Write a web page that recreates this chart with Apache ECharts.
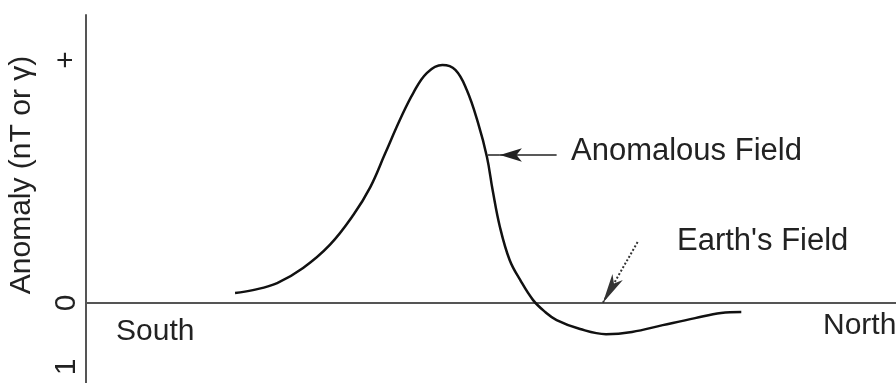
<!DOCTYPE html>
<html>
<head>
<meta charset="utf-8">
<style>
  html, body { margin: 0; padding: 0; background: #fff; }
  #chart { width: 896px; height: 383px; }
</style>
<script src="https://cdn.jsdelivr.net/npm/echarts@6/dist/echarts.min.js"></script>
</head>
<body>
<div id="chart"></div>
<script>
// profile distance (arbitrary units, South -> North) and anomaly (relative units)
const distance = [18.4, 20.6, 23.6, 26.8, 30.1, 33.0, 35.1, 36.9, 38.8, 40.4, 42.1, 44.0, 45.6, 47.0, 48.4, 49.5, 50.2, 51.1, 52.3, 53.6, 55.2, 56.7, 58.1, 61.0, 64.2, 67.4, 71.2, 75.2, 78.4, 80.9];
const anomaly = [0.041, 0.053, 0.082, 0.144, 0.239, 0.362, 0.477, 0.613, 0.757, 0.864, 0.947, 0.979, 0.959, 0.877, 0.741, 0.601, 0.465, 0.313, 0.177, 0.095, 0.012, -0.037, -0.070, -0.107, -0.128, -0.119, -0.091, -0.062, -0.041, -0.037];

// y tick labels: "+" above zero, "0", and "1" below
const tickValues = [-0.263, 0, 1];
const tickLabels = ["1", "0", "+"];

// annotation arrows [x, y] in data units
const anomalousArrow = [[58.1, 0.609], [51.1, 0.609]];
const anomalousStub = [[51.1, 0.609], [49.6, 0.609]];
const earthArrow = [[68.1, 0.251], [63.8, 0]];

const chart = echarts.init(document.getElementById("chart"));

const font = "Liberation Sans, Arial, sans-serif";
const txt = "#222";

chart.setOption({
  animation: false,
  grid: { left: 86, right: 0, top: 15, bottom: 0, outerBoundsMode: "none" },
  xAxis: {
    type: "value",
    min: 0,
    max: 100,
    axisLine: { onZero: true, lineStyle: { color: "#555", width: 2 } },
    axisTick: { show: false },
    axisLabel: { show: false },
    splitLine: { show: false },
  },
  yAxis: {
    type: "value",
    min: -0.329,
    max: 1.185,
    name: "Anomaly (nT or γ)",
    nameLocation: "middle",
    nameRotate: 90,
    nameGap: 49,
    nameTextStyle: { color: txt, fontSize: 30, fontFamily: font, padding: [0, 0, 0, 48] },
    axisLine: { show: true, onZero: false, lineStyle: { color: "#555", width: 2 } },
    axisTick: { show: false },
    splitLine: { show: false },
    axisLabel: {
      customValues: tickValues,
      rotate: 90,
      margin: 4,
      color: txt,
      fontSize: 30,
      fontFamily: font,
      formatter: (v) => {
        const i = tickValues.findIndex((t) => Math.abs(t - v) < 1e-6);
        return i >= 0 ? tickLabels[i] : "";
      },
    },
  },
  series: [
    {
      type: "line",
      data: distance.map((d, i) => [d, anomaly[i]]),
      smooth: 0.4,
      symbol: "none",
      lineStyle: { color: "#111", width: 2.5 },
      markLine: {
        silent: true,
        label: { show: false },
        data: [
          [
            { coord: anomalousArrow[0], symbol: "none", lineStyle: { type: "solid", width: 1.5, color: "#222" } },
            { coord: anomalousArrow[1], symbol: "arrow", symbolSize: [10, 22] },
          ],
          [
            { coord: anomalousStub[0], symbol: "none", lineStyle: { type: "solid", width: 1.5, color: "#222" } },
            { coord: anomalousStub[1], symbol: "none" },
          ],
          [
            { coord: earthArrow[0], symbol: "none", lineStyle: { type: "dotted", width: 2, color: "#333" } },
            { coord: earthArrow[1], symbol: "arrow", symbolSize: [9, 30] },
          ],
        ],
      },
    },
  ],
  graphic: [
    { type: "text", left: 571, top: 136, style: { text: "Anomalous Field", fill: txt, font: "31px " + font } },
    { type: "text", left: 677, top: 226, style: { text: "Earth's Field", fill: txt, font: "31px " + font } },
    { type: "text", left: 116, top: 317, style: { text: "South", fill: txt, font: "30px " + font } },
    { type: "text", left: 823, top: 311, style: { text: "North", fill: txt, font: "30px " + font } },
  ],
});
</script>
</body>
</html>
